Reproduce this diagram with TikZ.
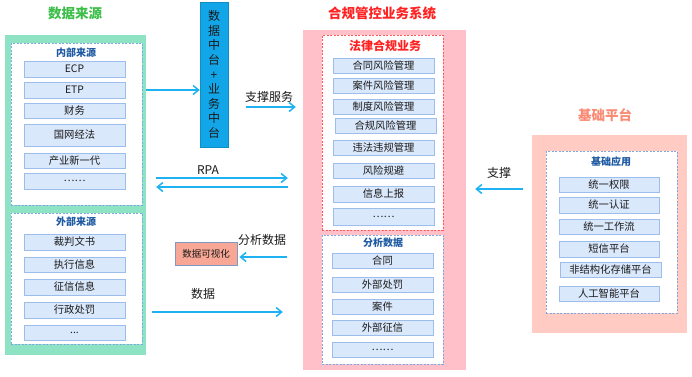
\documentclass[tikz,border=0pt]{standalone}
\usepackage{fontspec}
\setmainfont{Noto Sans CJK SC}
\usepackage{xcolor}
\usepackage{tikz}
\usetikzlibrary{arrows.meta}

\definecolor{verdeFondo}{HTML}{8FE3C5}
\definecolor{verdeTitolo}{HTML}{3DBE4A}
\definecolor{rosaFondo}{HTML}{FFC0C9}
\definecolor{rossoTitolo}{HTML}{FF2222}
\definecolor{salmoneFondo}{HTML}{FFCBC3}
\definecolor{salmoneTitolo}{HTML}{F98A74}
\definecolor{bluBarra}{HTML}{12A6E8}
\definecolor{azzurro}{HTML}{1EB2F2}
\definecolor{fondoVoce}{HTML}{DAE8FC}
\definecolor{bordoVoce}{HTML}{9DBEEC}
\definecolor{bordoBlu}{HTML}{7EA6E0}
\definecolor{bluSotto}{HTML}{1E5AA2}
\definecolor{testo}{HTML}{1A1A1A}
\definecolor{vizFondo}{HTML}{F8A796}

\begin{document}
\begin{tikzpicture}[x=1pt, y=-1pt,
    voce/.style={draw=bordoVoce, fill=fondoVoce, line width=0.9pt, minimum width=101, minimum height=15, inner sep=0pt, text=testo, font=\fontsize{10.3}{12}\selectfont},
    riquadro/.style={draw=bordoBlu, fill=white, dash pattern=on 2pt off 1.5pt, line width=0.8pt, inner sep=0pt},
    pannello/.style={inner sep=0pt},
    titolo/.style={font=\fontsize{13.5}{16}\selectfont\bfseries},
    sottotitolo/.style={text=bluSotto, font=\fontsize{10}{12}\selectfont\bfseries},
    etichetta/.style={text=testo, font=\fontsize{12}{14}\selectfont},
    freccia/.style={draw=azzurro, line width=1.5pt, -{Straight Barb[length=5.5pt, width=9pt]}}]
    \useasboundingbox (0,0) rectangle (692,376);

    % Fonti dati
    \node[titolo, text=verdeTitolo] (titFonti) at (75,13) {数据来源};
    \node[pannello, fill=verdeFondo, minimum width=141, minimum height=320] (fonti) at (75.5,195) {};
    \node[riquadro, minimum width=131, minimum height=162] (interne) at (76.5,124) {};
    \node[sottotitolo] (titInterne) at (76,53) {内部来源};
    \node[voce, minimum height=16] (ecp) at (74.5,69) {ECP};
    \node[voce, minimum height=16] (etp) at (74.5,90) {ETP};
    \node[voce] (finanza) at (74.5,110.5) {财务};
    \node[voce, minimum height=22] (legale) at (74.5,135) {国网经法};
    \node[voce] (industria) at (74.5,160.5) {产业新一代};
    \node[voce, minimum height=16] (altreInt) at (74.5,181) {……};

    \node[riquadro, minimum width=131, minimum height=131] (esterne) at (76.5,278.5) {};
    \node[sottotitolo] (titEsterne) at (76,222) {外部来源};
    \node[voce, minimum height=16] (sentenze) at (74.5,242) {裁判文书};
    \node[voce] (esecuzione) at (74.5,264.5) {执行信息};
    \node[voce, minimum height=16] (credito) at (74.5,287) {征信信息};
    \node[voce, minimum height=16] (sanzioni) at (74.5,310) {行政处罚};
    \node[voce] (altreEst) at (74.5,332.5) {...};

    % Piattaforma intermedia
    \node[pannello, draw=bluBarra!85!black, fill=bluBarra, line width=0.5pt, minimum width=28, minimum height=145, text=testo,
        font=\fontsize{12}{14.6}\selectfont, align=center] (piattaforma) at (214,74.5)
        {数\\据\\中\\台\\+\\业\\务\\中\\台};
    \node[draw=bordoBlu!70!gray, fill=vizFondo, line width=0.8pt, minimum width=62, minimum height=23, inner sep=0pt,
        text=testo, font=\fontsize{9.5}{11}\selectfont] (viz) at (206,253.5) {数据可视化};

    % Sistema centrale
    \node[titolo, text=rossoTitolo] (titSistema) at (382,13) {合规管控业务系统};
    \node[pannello, fill=rosaFondo, minimum width=163, minimum height=340] (sistema) at (384.5,200) {};
    \node[riquadro, draw=rossoTitolo!75, minimum width=121, minimum height=195] (legge) at (382.5,132.5) {};
    \node[text=rossoTitolo, font=\fontsize{12}{14}\selectfont\bfseries] (titLegge) at (385,46) {法律合规业务};
    \node[voce] (contratti) at (383.5,65.5) {合同风险管理};
    \node[voce] (casi) at (383.5,85.5) {案件风险管理};
    \node[voce] (norme) at (383.5,106.5) {制度风险管理};
    \node[voce] (conformita) at (385.5,125.5) {合规风险管理};
    \node[voce] (violazioni) at (383.5,147.5) {违法违规管理};
    \node[voce] (evitare) at (383.5,170.5) {风险规避};
    \node[voce, minimum height=16] (rapporti) at (383.5,194) {信息上报};
    \node[voce, minimum height=17] (altreLegge) at (383.5,216.5) {……};

    \node[riquadro, minimum width=121, minimum height=129] (analisi) at (382.5,299.5) {};
    \node[sottotitolo] (titAnalisi) at (383,243) {分析数据};
    \node[voce] (aContratti) at (382.5,260.5) {合同};
    \node[voce] (aSanzioni) at (382.5,284.5) {外部处罚};
    \node[voce] (aCasi) at (382.5,306.5) {案件};
    \node[voce] (aCredito) at (382.5,327.5) {外部征信};
    \node[voce] (aAltre) at (382.5,349.5) {……};

    % Piattaforma di base
    \node[titolo, text=salmoneTitolo] (titBase) at (605,115) {基础平台};
    \node[pannello, fill=salmoneFondo, minimum width=155, minimum height=198] (base) at (609.5,234) {};
    \node[riquadro, minimum width=131, minimum height=162] (applicazioni) at (611.5,232) {};
    \node[sottotitolo] (titApplicazioni) at (611,162) {基础应用};
    \node[voce, minimum width=100] (permessi) at (609,184.5) {统一权限};
    \node[voce, minimum width=100, minimum height=16] (autenticazione) at (609,205) {统一认证};
    \node[voce, minimum width=100] (workflow) at (609,226.5) {统一工作流};
    \node[voce, minimum width=100, minimum height=16] (sms) at (609,249) {短信平台};
    \node[voce] (archivio) at (610.5,269.5) {非结构化存储平台};
    \node[voce, minimum width=100] (ia) at (609,293.5) {人工智能平台};

    % Frecce ed etichette
    \draw[freccia] (fonti.east |- 0,90) -- (piattaforma.west |- 0,90);
    \node[etichetta] (labServizi) at (269,97) {支撑服务};
    \draw[freccia, shorten <=18pt, shorten >=7pt] (piattaforma.east |- 0,107) -- (sistema.west |- 0,107);
    \node[etichetta] (labRpa) at (208,170) {RPA};
    \draw[freccia, shorten <=10pt, shorten >=15pt] (fonti.east |- 0,178) -- (sistema.west |- 0,178);
    \draw[freccia, shorten <=15pt, shorten >=10pt] (sistema.west |- 0,187) -- (fonti.east |- 0,187);
    \node[etichetta] (labAnalisi) at (262,240) {分析数据};
    \draw[freccia, shorten <=16pt, shorten >=2pt] (sistema.west |- 0,257) -- (viz.east |- 0,257);
    \node[etichetta] (labDati) at (203,294) {数据};
    \draw[freccia, shorten <=6pt, shorten >=20pt] (fonti.east |- 0,312) -- (sistema.west |- 0,312);
    \node[etichetta] (labSupporto) at (499,173) {支撑};
    \draw[freccia, shorten <=9pt, shorten >=9pt] (base.west |- 0,189) -- (sistema.east |- 0,189);
\end{tikzpicture}
\end{document}
